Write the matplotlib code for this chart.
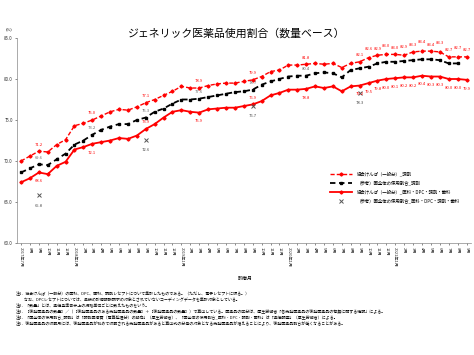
import matplotlib
matplotlib.use("Agg")
import matplotlib.pyplot as plt

plt.rcParams['font.family'] = ['Noto Sans CJK JP', 'DejaVu Sans']

# monthly values, 2017年7月 .. 2021年9月
kyokai_chozai = [70.0, 70.6, 71.2, 71.1, 72.0, 72.6, 74.3, 74.6, 75.0, 75.5,
                 76.0, 76.3, 76.2, 76.6, 77.1, 77.5, 78.0, 78.5, 79.1, 78.9,
                 78.9, 79.2, 79.4, 79.5, 79.5, 79.7, 79.9, 80.3, 80.9, 81.1,
                 81.7, 81.7, 81.8, 81.9, 81.8, 81.9, 81.4, 81.9, 82.1, 82.6,
                 82.9, 83.0, 83.0, 82.9, 83.3, 83.4, 83.4, 83.3, 82.7, 82.7,
                 82.7]
kuni_chozai = [68.6, 69.1, 69.6, 69.5, 70.2, 70.9, 72.0, 72.5, 73.2, 73.8,
               74.2, 74.5, 74.5, 75.0, 75.3, 76.0, 76.4, 77.0, 77.5, 77.5,
               77.6, 77.8, 78.0, 78.2, 78.4, 78.5, 78.7, 79.3, 79.7, 80.0,
               80.3, 80.4, 80.4, 80.7, 80.8, 80.7, 80.2, 81.1, 81.3, 81.5,
               81.9, 82.1, 82.1, 82.2, 82.3, 82.4, 82.4, 82.3, 81.9, 81.9]
kyokai_all = [67.4, 67.9, 68.6, 68.4, 69.4, 69.9, 71.4, 71.7, 72.1, 72.3,
              72.5, 72.8, 72.7, 73.1, 73.9, 74.5, 75.3, 76.0, 76.2, 76.0,
              75.9, 76.3, 76.4, 76.5, 76.5, 76.7, 76.9, 77.3, 78.0, 78.3,
              78.7, 78.7, 78.8, 79.1, 78.9, 79.1, 78.5, 79.1, 79.2, 79.5,
              79.8, 80.0, 80.1, 80.2, 80.2, 80.4, 80.3, 80.3, 80.0, 80.0,
              79.9]
kuni_all_idx = [2, 14, 26, 38]
kuni_all = [65.8, 72.6, 76.7, 78.3]

labeled_early = [2, 8, 14, 20, 26, 32]
labeled_late = list(range(38, 51))

ticklabels = []
for i in range(len(kyokai_chozai)):
    year = 2017 + (6 + i) // 12
    month = (6 + i) % 12 + 1
    if i == 0 or month == 1:
        ticklabels.append(f"{year}年{month}月")
    else:
        ticklabels.append(f"{month}月")

notes = [
    "注1．協会けんぽ（一般分）の医科、DPC、歯科、調剤レセプトについて集計したものである。（ただし、電子レセプトに限る。）",
    "　　なお、DPCレセプトについては、直接の診療報酬請求の対象とされていないコーディングデータを集計対象としている。",
    "注2．「数量」とは、薬価基準告示上の規格単位ごとに数えたものをいう。",
    "注3．［後発医薬品の数量］／（［後発医薬品のある先発医薬品の数量］＋［後発医薬品の数量］）で算出している。医薬品の区分は、厚生労働省「各先発医薬品の後発医薬品の有無に関する情報」による。",
    "注4．「国全体の使用割合_調剤」は「調剤医療費（電算処理分）の動向」（厚生労働省）、「国全体の使用割合_医科・DPC・調剤・歯科」は「薬価調査」（厚生労働省）による。",
    "注5．後発医薬品の収載月には、後発医薬品が初めて収載される先発医薬品があると算出式の分母の対象となる先発医薬品が増えることにより、後発医薬品割合が低くなることがある。",
]

RED = "#ff0000"
x_red = list(range(len(kyokai_chozai)))
x_blk = list(range(len(kuni_chozai)))

fig = plt.figure(figsize=(4.74, 3.55), dpi=100)
ax = fig.add_axes([17 / 474, 1 - 243 / 355, 454 / 474, 205 / 355])

ax.plot(x_red, kyokai_chozai, color=RED, linestyle=(0, (3, 1.5)), linewidth=1.0,
        marker='D', markersize=1.6, label="協会けんぽ（一般分）_調剤")
ax.plot(x_blk, kuni_chozai, color="black", linestyle=(0, (3, 2)), linewidth=1.3,
        marker='s', markersize=2.0, label="（参考）国全体の使用割合_調剤")
ax.plot(x_red, kyokai_all, color=RED, linestyle='-', linewidth=1.3,
        marker='D', markersize=1.6, label="協会けんぽ（一般分）_医科・DPC・調剤・歯科")
ax.plot(kuni_all_idx, kuni_all, linestyle='none', color="#555555", marker='x',
        markersize=2.5, markeredgewidth=0.7,
        label="（参考）国全体の使用割合_医科・DPC・調剤・歯科")

fs = 3.0
for i in labeled_early:
    ax.annotate(f"{kyokai_chozai[i]:.1f}", (i, kyokai_chozai[i]), xytext=(0, 4),
                textcoords='offset points', ha='center', fontsize=fs, color=RED)
    ax.annotate(f"{kuni_chozai[i]:.1f}", (i, kuni_chozai[i]), xytext=(0, 4),
                textcoords='offset points', ha='center', fontsize=fs, color="#666666")
    dy = 4 if i in (14, 26) else -7
    ax.annotate(f"{kyokai_all[i]:.1f}", (i, kyokai_all[i]), xytext=(0, dy),
                textcoords='offset points', ha='center', fontsize=fs, color=RED)
for n, i in enumerate(labeled_late):
    up = 4 + (n % 2) * 1.5
    ax.annotate(f"{kyokai_chozai[i]:.1f}", (i, kyokai_chozai[i]), xytext=(0, up),
                textcoords='offset points', ha='center', fontsize=fs, color=RED)
    ax.annotate(f"{kyokai_all[i]:.1f}", (i, kyokai_all[i]), xytext=(0, -7),
                textcoords='offset points', ha='center', fontsize=fs, color=RED)
for i, v in zip(kuni_all_idx, kuni_all):
    ax.annotate(f"{v:.1f}", (i, v), xytext=(0, -8), textcoords='offset points',
                ha='center', fontsize=fs, color="#444444")

ax.set_xlim(-0.45, len(kyokai_chozai) - 0.5)
ax.set_ylim(60, 85)
ax.set_yticks([60, 65, 70, 75, 80, 85])
ax.set_yticklabels([f"{v:.1f}" for v in [60, 65, 70, 75, 80, 85]], fontsize=3.2)
ax.set_xticks(x_red)
ax.set_xticklabels(ticklabels, rotation=270, fontsize=3.0, va='top', ha='center')
ax.tick_params(axis='both', length=1.5, width=0.4, pad=1.5, colors="#333333")
for s in ['top', 'right']:
    ax.spines[s].set_visible(False)
for s in ['left', 'bottom']:
    ax.spines[s].set_linewidth(0.5)
    ax.spines[s].set_color("#888888")

ax.legend(loc='upper left', bbox_to_anchor=(0.68, 0.37), frameon=False,
          fontsize=3.2, handlelength=5, labelspacing=0.9, handletextpad=1.2)

fig.text(9 / 474, 1 - 29 / 355, "(%)", fontsize=3.0, ha='center', va='center')
fig.text(0.5, 1 - 33 / 355, "ジェネリック医薬品使用割合（数量ベース）", fontsize=7.8,
         ha='center', va='center')
fig.text(245 / 474, 1 - 278 / 355, "診療月", fontsize=3.6, ha='center', va='center')

for k, line in enumerate(notes):
    fig.text(16 / 474, 1 - (294 + 6 * k) / 355, line, fontsize=2.9,
             ha='left', va='center')

fig.savefig("out.png", dpi=100)
